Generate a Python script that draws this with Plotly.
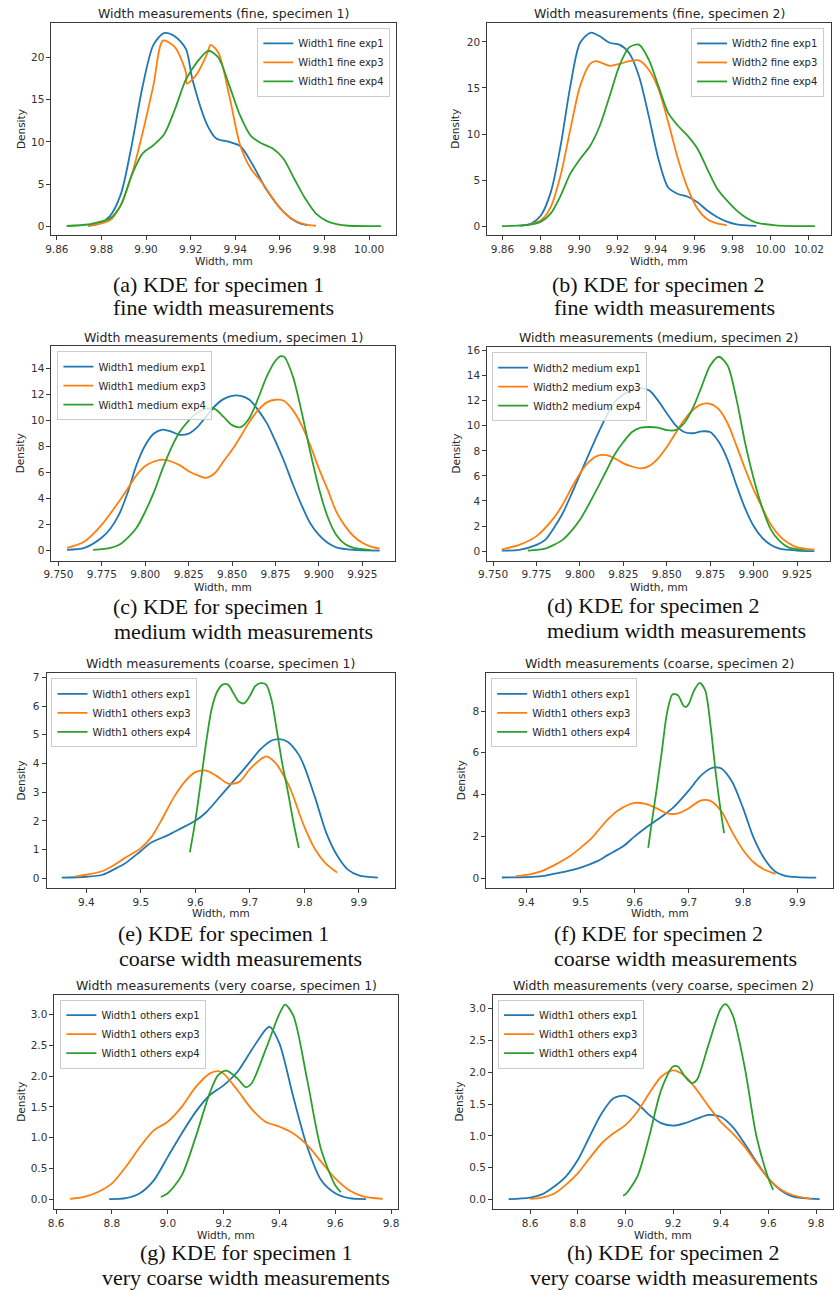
import plotly.graph_objects as go

W, H = 834, 1291
COLORS = ["#1f77b4", "#ff7f0e", "#2ca02c"]

# ---------------- data ----------------
# (a) fine, specimen 1
A1_X = [9.8741, 9.8790, 9.8838, 9.8887, 9.8935, 9.8984, 9.9033, 9.9081, 9.9130, 9.9179, 9.9208, 9.9276, 9.9315, 9.9373, 9.9422, 9.9480, 9.9538, 9.9616, 9.9675, 9.9723]
A1_Y = [0.05, 0.3, 1.2, 3.8, 9.5, 16.5, 21.5, 22.9, 22.5, 21.0, 17.4, 11.9, 10.4, 10.0, 9.5, 7.2, 4.4, 1.7, 0.5, 0.1]
A3_X = [9.8741, 9.8838, 9.8887, 9.8935, 9.8984, 9.9033, 9.9076, 9.9130, 9.9179, 9.9183, 9.9227, 9.9276, 9.9289, 9.9324, 9.9373, 9.9422, 9.9470, 9.9519, 9.9568, 9.9616, 9.9665, 9.9713, 9.9762]
A3_Y = [0.05, 0.7, 2.5, 6.0, 11.0, 16.7, 22.0, 21.2, 18.2, 16.9, 18.0, 20.6, 21.5, 20.6, 15.5, 9.6, 6.8, 5.2, 3.3, 1.7, 0.7, 0.2, 0.05]
A4_X = [9.8644, 9.8741, 9.8790, 9.8838, 9.8887, 9.8935, 9.8984, 9.9033, 9.9081, 9.9130, 9.9179, 9.9227, 9.9279, 9.9324, 9.9373, 9.9422, 9.9470, 9.9519, 9.9568, 9.9616, 9.9665, 9.9713, 9.9762, 9.9811, 9.9859, 9.9908, 10.0054]
A4_Y = [0.02, 0.2, 0.5, 0.9, 2.5, 6.0, 8.6, 9.6, 10.9, 13.9, 17.4, 19.4, 20.8, 20.0, 16.7, 13.1, 10.7, 9.8, 9.2, 8.0, 5.6, 3.3, 1.5, 0.6, 0.2, 0.05, 0.0]

# (b) fine, specimen 2
B1_X = [9.8689, 9.8750, 9.8801, 9.8852, 9.8903, 9.8954, 9.9005, 9.9061, 9.9108, 9.9159, 9.9210, 9.9261, 9.9312, 9.9363, 9.9414, 9.9465, 9.9516, 9.9567, 9.9618, 9.9669, 9.9720, 9.9771, 9.9823, 9.9925]
B1_Y = [0.05, 0.3, 1.2, 3.7, 8.7, 15.2, 19.9, 21.0, 20.6, 19.9, 19.7, 18.8, 16.3, 12.0, 7.3, 4.2, 3.5, 3.2, 2.6, 1.7, 1.0, 0.5, 0.2, 0.03]
B3_X = [9.8725, 9.8801, 9.8852, 9.8903, 9.8954, 9.9005, 9.9057, 9.9087, 9.9108, 9.9159, 9.9210, 9.9261, 9.9312, 9.9363, 9.9414, 9.9465, 9.9516, 9.9567, 9.9618, 9.9669, 9.9720, 9.9771]
B3_Y = [0.1, 0.65, 2.1, 5.5, 10.5, 15.2, 17.6, 17.9, 17.8, 17.4, 17.6, 17.9, 18.0, 17.0, 14.9, 11.3, 7.3, 4.1, 1.9, 0.75, 0.3, 0.1]
B4_X = [9.8597, 9.8699, 9.8750, 9.8801, 9.8852, 9.8903, 9.8954, 9.9005, 9.9057, 9.9108, 9.9159, 9.9210, 9.9261, 9.9312, 9.9363, 9.9414, 9.9465, 9.9516, 9.9567, 9.9618, 9.9669, 9.9720, 9.9771, 9.9823, 9.9874, 9.9925, 10.0027, 10.0231]
B4_Y = [0.01, 0.1, 0.2, 0.5, 1.4, 3.3, 5.7, 7.3, 8.7, 10.9, 14.1, 17.4, 19.4, 19.7, 18.1, 15.2, 12.3, 10.9, 9.8, 8.4, 6.2, 4.1, 2.8, 1.7, 0.9, 0.4, 0.1, 0.01]

# (c) medium, specimen 1
C1_X = [9.755, 9.765, 9.775, 9.780, 9.785, 9.790, 9.795, 9.800, 9.805, 9.810, 9.815, 9.820, 9.825, 9.830, 9.835, 9.840, 9.845, 9.850, 9.855, 9.860, 9.865, 9.870, 9.875, 9.880, 9.885, 9.890, 9.895, 9.900, 9.905, 9.910, 9.920, 9.935]
C1_Y = [0.05, 0.2, 1.0, 1.7, 2.8, 4.5, 6.6, 8.1, 9.0, 9.3, 9.15, 8.9, 9.0, 9.5, 10.3, 11.1, 11.65, 11.9, 11.9, 11.6, 10.8, 9.8, 8.4, 6.85, 5.1, 3.5, 2.1, 1.2, 0.6, 0.25, 0.05, 0.0]
C3_X = [9.755, 9.765, 9.775, 9.785, 9.790, 9.795, 9.800, 9.805, 9.810, 9.815, 9.820, 9.825, 9.830, 9.835, 9.840, 9.845, 9.850, 9.855, 9.860, 9.865, 9.870, 9.875, 9.880, 9.885, 9.890, 9.895, 9.900, 9.905, 9.910, 9.915, 9.920, 9.925, 9.930, 9.935]
C3_Y = [0.2, 0.7, 2.0, 3.8, 4.8, 5.8, 6.5, 6.85, 7.0, 6.85, 6.55, 6.1, 5.8, 5.6, 5.95, 6.85, 7.75, 8.8, 9.9, 10.8, 11.4, 11.6, 11.5, 10.8, 9.65, 8.1, 6.3, 4.7, 3.0, 1.9, 1.1, 0.6, 0.3, 0.15]
C4_X = [9.770, 9.780, 9.785, 9.790, 9.795, 9.800, 9.805, 9.810, 9.815, 9.820, 9.825, 9.830, 9.835, 9.840, 9.845, 9.850, 9.855, 9.860, 9.865, 9.870, 9.875, 9.878, 9.880, 9.885, 9.890, 9.895, 9.900, 9.905, 9.910, 9.915, 9.920, 9.930]
C4_Y = [0.05, 0.2, 0.45, 1.0, 1.75, 3.0, 4.5, 6.3, 7.9, 9.15, 10.0, 10.6, 10.9, 10.9, 10.3, 9.65, 9.5, 10.2, 11.7, 13.4, 14.6, 14.95, 14.9, 13.4, 10.7, 7.6, 4.8, 2.6, 1.2, 0.5, 0.2, 0.03]

# (d) medium, specimen 2
D1_X = [9.755, 9.765, 9.775, 9.780, 9.785, 9.790, 9.795, 9.800, 9.805, 9.810, 9.815, 9.820, 9.825, 9.830, 9.835, 9.840, 9.845, 9.850, 9.855, 9.860, 9.865, 9.870, 9.875, 9.880, 9.885, 9.890, 9.895, 9.900, 9.905, 9.910, 9.915, 9.925, 9.935]
D1_Y = [0.05, 0.1, 0.5, 0.9, 1.85, 3.0, 4.5, 6.1, 7.7, 9.25, 10.7, 11.9, 12.5, 12.8, 13.0, 12.8, 12.0, 11.0, 10.05, 9.5, 9.4, 9.55, 9.5, 8.7, 7.3, 5.3, 3.45, 2.0, 1.05, 0.5, 0.2, 0.05, 0.0]
D3_X = [9.755, 9.765, 9.775, 9.785, 9.790, 9.795, 9.800, 9.805, 9.810, 9.815, 9.820, 9.825, 9.830, 9.835, 9.840, 9.845, 9.850, 9.855, 9.860, 9.865, 9.870, 9.875, 9.880, 9.885, 9.890, 9.895, 9.900, 9.905, 9.910, 9.915, 9.920, 9.925, 9.935]
D3_Y = [0.15, 0.5, 1.2, 2.65, 3.7, 5.0, 6.2, 7.1, 7.6, 7.65, 7.4, 7.0, 6.75, 6.6, 6.8, 7.4, 8.3, 9.4, 10.45, 11.25, 11.7, 11.75, 11.3, 10.2, 8.45, 6.6, 4.9, 3.45, 2.1, 1.2, 0.65, 0.3, 0.12]
D4_X = [9.770, 9.780, 9.785, 9.790, 9.795, 9.800, 9.805, 9.810, 9.815, 9.820, 9.825, 9.830, 9.835, 9.840, 9.845, 9.850, 9.855, 9.860, 9.865, 9.870, 9.875, 9.880, 9.885, 9.890, 9.895, 9.900, 9.905, 9.910, 9.915, 9.920, 9.930]
D4_Y = [0.05, 0.2, 0.5, 0.9, 1.6, 2.5, 3.7, 5.0, 6.35, 7.7, 8.7, 9.5, 9.85, 9.9, 9.85, 9.65, 9.65, 10.2, 11.4, 13.1, 14.8, 15.5, 14.8, 12.2, 8.7, 5.8, 3.45, 1.7, 0.8, 0.3, 0.05]

# (e) coarse, specimen 1
E1_X = [9.355, 9.40, 9.43, 9.45, 9.47, 9.50, 9.52, 9.55, 9.57, 9.60, 9.62, 9.65, 9.68, 9.70, 9.72, 9.74, 9.755, 9.77, 9.79, 9.80, 9.82, 9.84, 9.86, 9.88, 9.90, 9.935]
E1_Y = [0.02, 0.05, 0.12, 0.3, 0.5, 0.95, 1.25, 1.5, 1.7, 2.0, 2.3, 2.95, 3.6, 4.05, 4.5, 4.8, 4.85, 4.75, 4.3, 3.9, 2.8, 1.6, 0.8, 0.3, 0.1, 0.02]
E3_X = [9.38, 9.40, 9.43, 9.45, 9.47, 9.50, 9.52, 9.54, 9.56, 9.58, 9.60, 9.62, 9.64, 9.66, 9.68, 9.70, 9.72, 9.73, 9.74, 9.75, 9.76, 9.77, 9.78, 9.79, 9.80, 9.82, 9.84, 9.86]
E3_Y = [0.06, 0.12, 0.25, 0.45, 0.7, 1.05, 1.45, 2.1, 2.8, 3.35, 3.7, 3.75, 3.55, 3.3, 3.35, 3.8, 4.15, 4.25, 4.15, 3.95, 3.65, 3.3, 2.85, 2.3, 1.8, 1.0, 0.5, 0.2]
E4_X = [9.59, 9.60, 9.61, 9.62, 9.63, 9.64, 9.65, 9.66, 9.67, 9.68, 9.69, 9.70, 9.71, 9.72, 9.73, 9.74, 9.75, 9.76, 9.77, 9.78, 9.79]
E4_Y = [0.9, 2.0, 3.35, 4.75, 5.9, 6.5, 6.75, 6.75, 6.45, 6.15, 6.1, 6.35, 6.7, 6.8, 6.75, 6.2, 5.1, 3.95, 3.0, 1.95, 1.05]

# (f) coarse, specimen 2
F1_X = [9.355, 9.40, 9.43, 9.45, 9.47, 9.50, 9.53, 9.55, 9.58, 9.60, 9.62, 9.65, 9.67, 9.70, 9.72, 9.74, 9.75, 9.76, 9.78, 9.80, 9.82, 9.84, 9.86, 9.88, 9.90, 9.935]
F1_Y = [0.03, 0.05, 0.1, 0.2, 0.3, 0.5, 0.8, 1.1, 1.55, 2.0, 2.4, 2.95, 3.35, 4.2, 4.85, 5.25, 5.3, 5.25, 4.6, 3.35, 1.9, 0.9, 0.3, 0.1, 0.05, 0.02]
F3_X = [9.38, 9.40, 9.43, 9.45, 9.48, 9.50, 9.52, 9.55, 9.57, 9.60, 9.62, 9.64, 9.66, 9.68, 9.70, 9.72, 9.73, 9.74, 9.76, 9.78, 9.80, 9.82, 9.84, 9.86]
F3_Y = [0.08, 0.15, 0.35, 0.6, 1.05, 1.45, 1.9, 2.8, 3.25, 3.6, 3.55, 3.35, 3.1, 3.1, 3.35, 3.7, 3.75, 3.7, 3.2, 2.2, 1.35, 0.75, 0.4, 0.2]
F4_X = [9.625, 9.63, 9.64, 9.65, 9.66, 9.67, 9.68, 9.69, 9.695, 9.70, 9.71, 9.72, 9.73, 9.74, 9.75, 9.76, 9.765]
F4_Y = [1.45, 2.4, 4.15, 6.05, 7.95, 8.8, 8.75, 8.25, 8.2, 8.35, 9.0, 9.35, 9.0, 7.3, 4.95, 3.0, 2.15]

# (g) very coarse, specimen 1
G1_X = [8.79, 8.85, 8.90, 8.95, 9.00, 9.05, 9.10, 9.15, 9.20, 9.25, 9.30, 9.35, 9.365, 9.40, 9.45, 9.50, 9.55, 9.60, 9.65, 9.71]
G1_Y = [0.005, 0.02, 0.1, 0.31, 0.69, 1.07, 1.42, 1.69, 1.85, 2.07, 2.42, 2.75, 2.8, 2.53, 1.66, 0.85, 0.31, 0.1, 0.02, 0.005]
G3_X = [8.65, 8.70, 8.75, 8.80, 8.85, 8.90, 8.95, 9.00, 9.05, 9.10, 9.15, 9.18, 9.20, 9.25, 9.30, 9.35, 9.40, 9.45, 9.50, 9.55, 9.60, 9.65, 9.70, 9.77]
G3_Y = [0.01, 0.04, 0.12, 0.26, 0.53, 0.85, 1.12, 1.26, 1.5, 1.82, 2.04, 2.08, 2.04, 1.77, 1.47, 1.26, 1.18, 1.07, 0.88, 0.61, 0.34, 0.15, 0.05, 0.01]
G4_X = [8.975, 9.00, 9.05, 9.10, 9.15, 9.18, 9.21, 9.25, 9.28, 9.30, 9.35, 9.40, 9.42, 9.45, 9.50, 9.55, 9.60, 9.62]
G4_Y = [0.04, 0.1, 0.39, 1.01, 1.72, 2.01, 2.09, 1.96, 1.82, 1.88, 2.42, 3.01, 3.16, 2.98, 1.93, 0.8, 0.23, 0.12]

# (h) very coarse, specimen 2
H1_X = [8.51, 8.60, 8.65, 8.70, 8.75, 8.80, 8.85, 8.90, 8.95, 9.00, 9.05, 9.10, 9.15, 9.20, 9.25, 9.30, 9.35, 9.40, 9.45, 9.50, 9.55, 9.60, 9.65, 9.70, 9.75, 9.815]
H1_Y = [0.005, 0.03, 0.08, 0.2, 0.36, 0.62, 0.99, 1.35, 1.59, 1.63, 1.51, 1.33, 1.2, 1.16, 1.2, 1.27, 1.33, 1.3, 1.14, 0.88, 0.59, 0.33, 0.15, 0.05, 0.02, 0.005]
H3_X = [8.60, 8.65, 8.70, 8.75, 8.80, 8.85, 8.90, 8.95, 9.00, 9.05, 9.10, 9.15, 9.20, 9.25, 9.30, 9.35, 9.40, 9.45, 9.50, 9.55, 9.60, 9.65, 9.70, 9.78]
H3_Y = [0.01, 0.03, 0.09, 0.23, 0.41, 0.65, 0.88, 1.04, 1.17, 1.38, 1.67, 1.93, 2.03, 1.94, 1.72, 1.46, 1.22, 1.04, 0.83, 0.57, 0.33, 0.16, 0.07, 0.01]
H4_X = [8.99, 9.00, 9.05, 9.10, 9.15, 9.20, 9.22, 9.25, 9.28, 9.30, 9.35, 9.40, 9.42, 9.45, 9.50, 9.55, 9.60, 9.62]
H4_Y = [0.06, 0.08, 0.36, 0.99, 1.72, 2.09, 2.09, 1.93, 1.83, 1.88, 2.45, 3.0, 3.07, 2.9, 2.09, 0.99, 0.33, 0.15]

TITLES = [
    "Width measurements (fine, specimen 1)",
    "Width measurements (fine, specimen 2)",
    "Width measurements (medium, specimen 1)",
    "Width measurements (medium, specimen 2)",
    "Width measurements (coarse, specimen 1)",
    "Width measurements (coarse, specimen 2)",
    "Width measurements (very coarse, specimen 1)",
    "Width measurements (very coarse, specimen 2)",
]
NAMES = [
    ["Width1 fine exp1", "Width1 fine exp3", "Width1 fine exp4"],
    ["Width2 fine exp1", "Width2 fine exp3", "Width2 fine exp4"],
    ["Width1 medium exp1", "Width1 medium exp3", "Width1 medium exp4"],
    ["Width2 medium exp1", "Width2 medium exp3", "Width2 medium exp4"],
    ["Width1 others exp1", "Width1 others exp3", "Width1 others exp4"],
    ["Width1 others exp1", "Width1 others exp3", "Width1 others exp4"],
    ["Width1 others exp1", "Width1 others exp3", "Width1 others exp4"],
    ["Width1 others exp1", "Width1 others exp3", "Width1 others exp4"],
]
CAPTIONS = [
    ("(a) KDE for specimen 1", "fine width measurements"),
    ("(b) KDE for specimen 2", "fine width measurements"),
    ("(c) KDE for specimen 1", "medium width measurements"),
    ("(d) KDE for specimen 2", "medium width measurements"),
    ("(e) KDE for specimen 1", "coarse width measurements"),
    ("(f) KDE for specimen 2", "coarse width measurements"),
    ("(g) KDE for specimen 1", "very coarse width measurements"),
    ("(h) KDE for specimen 2", "very coarse width measurements"),
]
X_TICKS = [
    [9.86, 9.88, 9.90, 9.92, 9.94, 9.96, 9.98, 10.00],
    [9.86, 9.88, 9.90, 9.92, 9.94, 9.96, 9.98, 10.00, 10.02],
    [9.750, 9.775, 9.800, 9.825, 9.850, 9.875, 9.900, 9.925],
    [9.750, 9.775, 9.800, 9.825, 9.850, 9.875, 9.900, 9.925],
    [9.4, 9.5, 9.6, 9.7, 9.8, 9.9],
    [9.4, 9.5, 9.6, 9.7, 9.8, 9.9],
    [8.6, 8.8, 9.0, 9.2, 9.4, 9.6, 9.8],
    [8.6, 8.8, 9.0, 9.2, 9.4, 9.6, 9.8],
]
Y_TICKS = [
    [0, 5, 10, 15, 20],
    [0, 5, 10, 15, 20],
    [0, 2, 4, 6, 8, 10, 12, 14],
    [0, 2, 4, 6, 8, 10, 12, 14, 16],
    [0, 1, 2, 3, 4, 5, 6, 7],
    [0, 2, 4, 6, 8],
    [0.0, 0.5, 1.0, 1.5, 2.0, 2.5, 3.0],
    [0.0, 0.5, 1.0, 1.5, 2.0, 2.5, 3.0],
]

SERIES = [
    [(A1_X, A1_Y), (A3_X, A3_Y), (A4_X, A4_Y)],
    [(B1_X, B1_Y), (B3_X, B3_Y), (B4_X, B4_Y)],
    [(C1_X, C1_Y), (C3_X, C3_Y), (C4_X, C4_Y)],
    [(D1_X, D1_Y), (D3_X, D3_Y), (D4_X, D4_Y)],
    [(E1_X, E1_Y), (E3_X, E3_Y), (E4_X, E4_Y)],
    [(F1_X, F1_Y), (F3_X, F3_Y), (F4_X, F4_Y)],
    [(G1_X, G1_Y), (G3_X, G3_Y), (G4_X, G4_Y)],
    [(H1_X, H1_Y), (H3_X, H3_Y), (H4_X, H4_Y)],
]

# ---------------- layout (pixel geometry) ----------------
BOX = [
    (43, 392, 20, 233), (484, 832, 20, 233),
    (43, 391, 344, 559), (484, 831, 345, 559),
    (38, 391, 672, 887), (483, 834, 672, 887),
    (46, 394, 994, 1209), (490, 834, 994, 1209),
]
XR = [(9.8576, 10.0122), (9.852, 10.0315), (9.746, 9.944), (9.7466, 9.944),
      (9.327, 9.967), (9.326, 9.966), (8.594, 9.826), (8.445, 9.871)]
YR = [(-1.1, 24.1), (-1.0, 22.05), (-0.78, 15.72), (-0.76, 16.26),
      (-0.34, 7.14), (-0.47, 9.8), (-0.158, 3.32), (-0.153, 3.22)]
XFMT = [".2f", ".2f", ".3f", ".3f", ".1f", ".1f", ".1f", ".1f"]
YFMT = ["d", "d", "d", "d", "d", "d", ".1f", ".1f"]
TITLE_Y = [11, 11, 335, 335, 662, 662, 985, 985]
XLABEL_Y = [259, 259, 585, 585, 912, 912, 1235, 1235]
YLABEL_X = [12, 452, 12, 452, 12, 457, 12, 455]
LEG = [(386, 25, "right"), (825, 25, "right"), (49, 349, "left"), (489, 350, "left"),
       (43, 677, "left"), (488, 677, "left"), (52, 999, "left"), (495, 999, "left")]
CAP_POS = [
    ((212, 282), (217, 305)), ((657, 282), (663, 305)),
    ((212, 605), (237, 630)), ((652, 604), (676, 629)),
    ((217, 933), (234, 958)), ((657, 933), (675, 958)),
    ((240, 1252), (240, 1277)), ((673, 1252), (673, 1277)),
]

TEXT_FONT = "DejaVu Sans"
SERIF = "Liberation Serif"

fig = go.Figure()
layout = dict(
    width=W, height=H, margin=dict(l=0, r=0, t=0, b=0),
    paper_bgcolor="white", plot_bgcolor="white",
    font=dict(family=TEXT_FONT, size=10, color="#262626"),
    annotations=[],
)


def px_x(v):
    return v / W


def px_y(v):
    return 1 - v / H


for i in range(8):
    n = i + 1
    xa = "x" if n == 1 else f"x{n}"
    ya = "y" if n == 1 else f"y{n}"
    leg = "legend" if n == 1 else f"legend{n}"
    for j, (xs, ys) in enumerate(SERIES[i]):
        fig.add_trace(go.Scatter(
            x=xs, y=ys, mode="lines", name=NAMES[i][j],
            line=dict(color=COLORS[j], width=1.8, shape="spline", smoothing=0.8),
            xaxis=xa, yaxis=ya, legend=leg, hoverinfo="skip",
        ))
    l, r, t, b = BOX[i]
    axcommon = dict(showline=True, mirror=True, linecolor="#3a3a3a", linewidth=1,
                    ticks="outside", ticklen=4, tickcolor="#3a3a3a", showgrid=False,
                    zeroline=False, tickfont=dict(family=TEXT_FONT, size=10.5, color="#333333"))
    layout["xaxis" if n == 1 else f"xaxis{n}"] = dict(
        axcommon, domain=[px_x(l), min(px_x(r), 1.0)], range=list(XR[i]),
        tickvals=X_TICKS[i], tickformat=XFMT[i], anchor=ya,
    )
    layout["yaxis" if n == 1 else f"yaxis{n}"] = dict(
        axcommon, domain=[px_y(b), px_y(t)], range=list(YR[i]),
        tickvals=Y_TICKS[i], tickformat=YFMT[i], anchor=xa,
    )
    lx, ly, anc = LEG[i]
    layout[leg] = dict(
        x=px_x(lx), y=px_y(ly), xanchor=anc, yanchor="top",
        bgcolor="rgba(255,255,255,0.8)", bordercolor="#cccccc", borderwidth=1,
        font=dict(family=TEXT_FONT, size=10, color="#262626"),
    )
    layout["annotations"].append(dict(
        text=TITLES[i], x=px_x((l + r) / 2), y=px_y(TITLE_Y[i]), xref="paper", yref="paper",
        showarrow=False, xanchor="center", yanchor="middle",
        font=dict(family=TEXT_FONT, size=12.5, color="#262626"),
    ))
    layout["annotations"].append(dict(
        text="Width, mm", x=px_x((l + r) / 2), y=px_y(XLABEL_Y[i]), xref="paper", yref="paper",
        showarrow=False, xanchor="center", yanchor="middle",
        font=dict(family=TEXT_FONT, size=10.5, color="#262626"),
    ))
    layout["annotations"].append(dict(
        text="Density", x=px_x(YLABEL_X[i]), y=px_y((t + b) / 2), xref="paper", yref="paper",
        showarrow=False, xanchor="center", yanchor="middle", textangle=-90,
        font=dict(family=TEXT_FONT, size=10.5, color="#262626"),
    ))
    for k in range(2):
        (cxp, cyp) = CAP_POS[i][k]
        layout["annotations"].append(dict(
            text=CAPTIONS[i][k], x=px_x(cxp), y=px_y(cyp), xref="paper", yref="paper",
            showarrow=False, xanchor="center", yanchor="middle",
            font=dict(family=SERIF, size=22, color="#111111"),
        ))

fig.update_layout(**layout)
fig.write_html("out.html")
